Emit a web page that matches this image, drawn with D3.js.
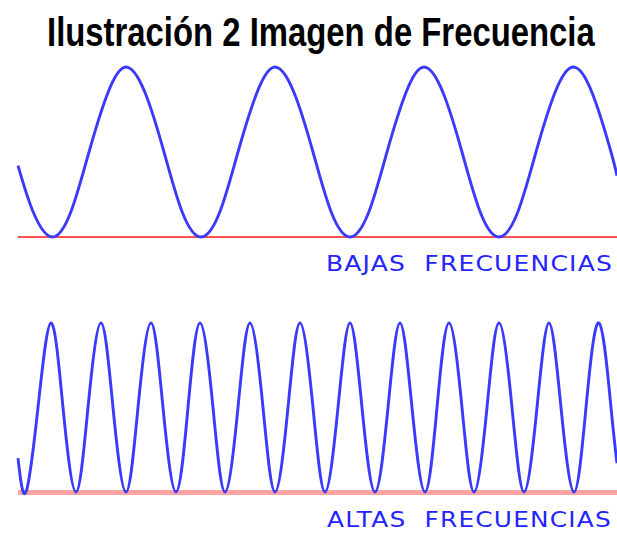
<!DOCTYPE html>
<html>
<head>
<meta charset="utf-8">
<script src="https://cdn.jsdelivr.net/npm/d3@7"></script>
<style>
  html, body { margin: 0; padding: 0; background: #ffffff; }
  svg { display: block; }
</style>
</head>
<body>
<script>
// ---- Data ----
const title = "Ilustración 2 Imagen de Frecuencia";
const labelLow = "BAJAS  FRECUENCIAS";
const labelHigh = "ALTAS  FRECUENCIAS";

// Low-frequency wave: x position (0..599) and relative amplitude (0..1)
const lowX = [0, 15, 34, 53, 71, 90, 108, 127, 146, 164, 183, 202, 220, 239, 257, 276, 295, 313,
              332, 351, 369, 388, 406, 425, 444, 462, 481, 500, 518, 537, 555, 574, 593, 599];
const lowY = [0.42, 0.15, 0, 0.15, 0.5, 0.85, 1, 0.85, 0.5, 0.15, 0, 0.15, 0.5, 0.85, 1, 0.85, 0.5, 0.15,
              0, 0.15, 0.5, 0.85, 1, 0.85, 0.5, 0.15, 0, 0.15, 0.5, 0.85, 1, 0.85, 0.5, 0.36];

// High-frequency wave
const highX = [0, 8, 20, 33, 45, 58, 70, 83, 95, 108, 120, 133, 145, 158, 170, 182, 195,
               207, 220, 232, 245, 257, 270, 282, 295, 307, 320, 332, 344, 357, 370, 382, 394,
               407, 419, 431, 444, 456, 469, 481, 494, 506, 519, 531, 543, 556, 568, 581, 593, 599];
const highY = [0.2, 0, 0.5, 1, 0.5, 0, 0.5, 1, 0.5, 0, 0.5, 1, 0.5, 0, 0.5, 1, 0.5,
               0, 0.5, 1, 0.5, 0, 0.5, 1, 0.5, 0, 0.5, 1, 0.5, 0, 0.5, 1, 0.5,
               0, 0.5, 1, 0.5, 0, 0.5, 1, 0.5, 0, 0.5, 1, 0.5, 0, 0.5, 1, 0.5, 0.17];

// ---- Layout ----
const W = 617, H = 533;
const svg = d3.select("body").append("svg").attr("width", W).attr("height", H);

const x = d3.scaleLinear().domain([0, 599]).range([18, 617]);
const yLow = d3.scaleLinear().domain([0, 1]).range([237, 67]);
const yHigh = d3.scaleLinear().domain([0, 1]).range([492, 323]);

// Title (compressed horizontally with a transform to mimic a narrow bold face)
const titleG = svg.append("g");
const titleT = titleG.append("text")
  .attr("x", 0).attr("y", 0)
  .style("font-family", "'Liberation Sans Narrow','Arial Narrow','Liberation Sans',Arial,sans-serif")
  .style("font-weight", "bold").style("font-size", "40px")
  .attr("fill", "#000")
  .text(title);
const natW = titleT.node().getComputedTextLength();
const sx = 548 / natW;
titleG.attr("transform", `translate(47,46) scale(${sx},1)`);

// Baselines
svg.append("line")
  .attr("x1", x(0)).attr("x2", x(599)).attr("y1", yLow(0)).attr("y2", yLow(0))
  .attr("stroke", "#ff5252").attr("stroke-width", 2.2);
svg.append("line")
  .attr("x1", x(0)).attr("x2", x(599)).attr("y1", yHigh(0) + 0.5).attr("y2", yHigh(0) + 0.5)
  .attr("stroke", "#ffa3a3").attr("stroke-width", 5);

// Waves
const lowData = lowX.map((d, i) => [d, lowY[i]]);
const highData = highX.map((d, i) => [d, highY[i]]);

const lineLow = d3.line().x(d => x(d[0])).y(d => yLow(d[1])).curve(d3.curveNatural);
const lineHigh = d3.line().x(d => x(d[0])).y(d => yHigh(d[1])).curve(d3.curveNatural);

svg.append("path").datum(lowData).attr("d", lineLow)
  .attr("fill", "none").attr("stroke", "#3a3afa").attr("stroke-width", 2.9);
svg.append("path").datum(highData).attr("d", lineHigh)
  .attr("fill", "none").attr("stroke", "#3a3afa").attr("stroke-width", 2.9);

// Labels
function label(txt, x0, y0, len) {
  svg.append("text")
    .attr("x", x0).attr("y", y0)
    .attr("textLength", len).attr("lengthAdjust", "spacingAndGlyphs")
    .style("white-space", "pre")
    .style("font-family", "'DejaVu Sans',Verdana,sans-serif").style("font-size", "21px")
    .style("letter-spacing", "1px")
    .attr("fill", "#2424ff")
    .text(txt);
}
label(labelLow, 326, 271, 287);
label(labelHigh, 327, 527, 285);
</script>
</body>
</html>
